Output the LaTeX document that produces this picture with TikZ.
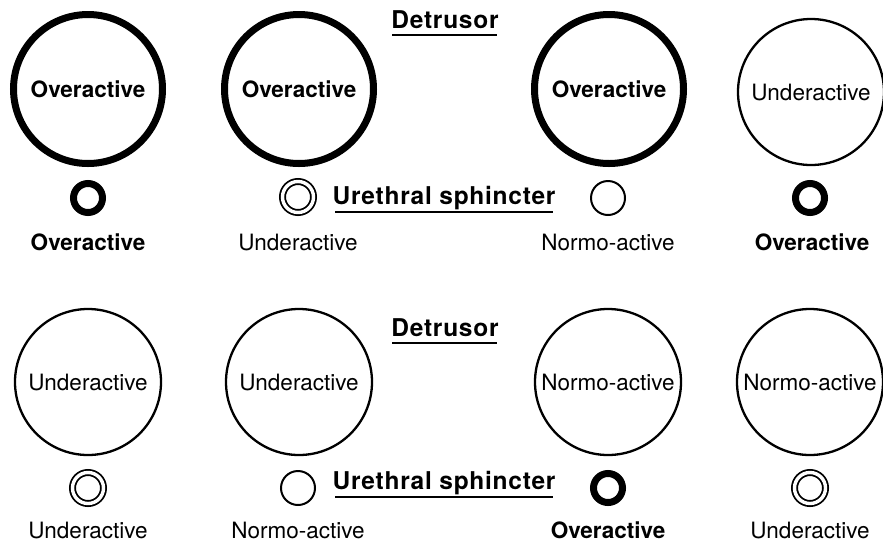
\documentclass[tikz,border=0pt]{standalone}
\usepackage{fontspec}
\setmainfont{TeX Gyre Heros}
\newfontfamily\titlefont[LetterSpace=3]{TeX Gyre Heros}
\begin{document}
\begin{tikzpicture}[x=1pt,y=-1pt,
  lab/.style={font=\fontsize{22.5}{24}\selectfont, inner sep=0pt},
  blab/.style={font=\fontsize{22.5}{24}\selectfont\bfseries, inner sep=0pt},
  bigthick/.style={circle, draw, line width=7pt, minimum size=149pt, inner sep=0pt, font=\fontsize{22.5}{24}\selectfont\bfseries},
  bigthin/.style={circle, draw, line width=2.3pt, minimum size=146pt, inner sep=0pt, font=\fontsize{22.5}{24}\selectfont},
  smthick/.style={circle, draw, line width=7pt, minimum size=29pt, inner sep=0pt},
  smthin/.style={circle, draw, line width=2pt, minimum size=34pt, inner sep=0pt},
  smdouble/.style={circle, draw, line width=1.8pt, double=white, double distance=3.4pt, minimum size=31pt, inner sep=0pt},
  title/.style={font=\titlefont\fontsize{24.5}{26}\selectfont\bfseries, inner sep=0pt},
  uline/.style={line width=1.4pt}
]
\useasboundingbox (0,0) rectangle (883,542);
% ---- top panel ----
\node[bigthick] (d1) at (88,89) {Overactive};
\node[bigthick] (d2) at (299,89) {Overactive};
\node[bigthick] (d3) at (609,89) {Overactive};
\node[bigthin] (d4) at (811,92) {Underactive};
\node[smthick] (s1) at (88,198) {};
\node[smdouble] (s2) at (298,197) {};
\node[smthin] (s3) at (608,198) {};
\node[smthick] (s4) at (810,198) {};
\node[blab] (l1) at (88,242) {Overactive};
\node[lab] (l2) at (298,242) {Underactive};
\node[lab] (l3) at (608,242) {Normo-active};
\node[blab] (l4) at (812,242) {Overactive};
\node[title] (t1) at (445,20) {Detrusor};
\coordinate (t1a) at (392,35); \coordinate (t1b) at (497,35);
\draw[uline] (t1a) -- (t1b);
\node[title] (u1) at (444,198) {Urethral sphincter};
\coordinate (u1a) at (335,212); \coordinate (u1b) at (553,212);
\draw[uline] (u1a) -- (u1b);
% ---- bottom panel ----
\node[bigthin] (e1) at (88,382) {Underactive};
\node[bigthin] (e2) at (299,382) {Underactive};
\node[bigthin] (e3) at (608,382) {Normo-active};
\node[bigthin] (e4) at (810,382) {Normo-active};
\node[smdouble] (r1) at (88,488) {};
\node[smthin] (r2) at (298,488) {};
\node[smthick] (r3) at (608,488) {};
\node[smdouble] (r4) at (810,488) {};
\node[lab] (m1) at (88,530) {Underactive};
\node[lab] (m2) at (298,530) {Normo-active};
\node[blab] (m3) at (608,530) {Overactive};
\node[lab] (m4) at (810,530) {Underactive};
\node[title] (t2) at (445,328) {Detrusor};
\coordinate (t2a) at (392,343); \coordinate (t2b) at (497,343);
\draw[uline] (t2a) -- (t2b);
\node[title] (u2) at (444,483) {Urethral sphincter};
\coordinate (u2a) at (335,497); \coordinate (u2b) at (553,497);
\draw[uline] (u2a) -- (u2b);
\end{tikzpicture}
\end{document}
